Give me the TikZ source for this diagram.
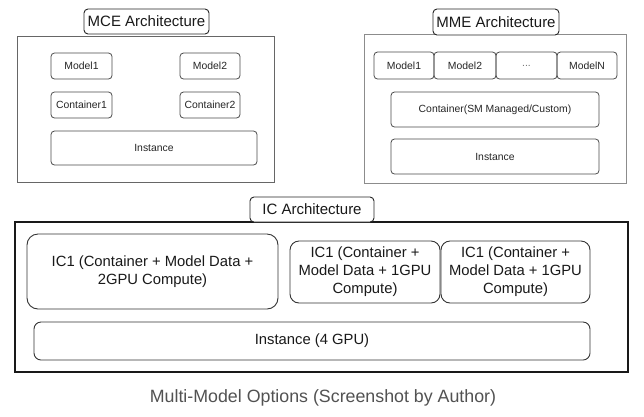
\documentclass[tikz,border=0pt]{standalone}
\usepackage{fontspec}
\setmainfont{Liberation Sans}
\begin{document}
\begin{tikzpicture}[x=1pt,y=-1pt,
  every node/.style={inner sep=0pt,outer sep=0pt},
  frame/.style={draw=#1,line width=0.9pt,fill=white,rectangle},
  frame/.default={black!65},
  title/.style={draw=black!85,line width=0.9pt,rounded corners=4pt,fill=white,font=\fontsize{15}{18}\selectfont,text=black!90},
  small/.style={draw=black!70,line width=0.8pt,rounded corners=3.5pt,font=\fontsize{10.4}{12}\selectfont,text=black!85},
  big/.style={draw=black!80,line width=0.9pt,rounded corners=#1,font=\fontsize{14.8}{18}\selectfont,text=black!90,align=center},
  big/.default=9pt,
  caption/.style={font=\fontsize{17.8}{20}\selectfont,text=black!68}
]
\useasboundingbox[fill=white] (0,0) rectangle (644,416);

% MCE
\node[frame=black!60,minimum width=257pt,minimum height=146pt] (mce) at (145.5,109) {};
\node[title,minimum width=125pt,minimum height=25pt] (mcet) at (146.5,21.5) {MCE Architecture};
\node[small,minimum width=61pt,minimum height=26pt] (mm1) at (81.5,66) {Model1};
\node[small,minimum width=60pt,minimum height=26pt] (mm2) at (210,66) {Model2};
\node[small,minimum width=61pt,minimum height=26pt] (mc1) at (81.5,105) {Container1};
\node[small,minimum width=60pt,minimum height=26pt] (mc2) at (210,105) {Container2};
\node[small,minimum width=206pt,minimum height=34pt] (mi) at (154,148) {Instance};

% MME
\node[frame=black!45,minimum width=262pt,minimum height=149pt] (mme) at (495,108.5) {};
\node[title,minimum width=126pt,minimum height=26pt] (mmet) at (496,22) {MME Architecture};
\node[small,minimum width=60pt,minimum height=27pt] (n1) at (404,65.5) {Model1};
\node[small,minimum width=62pt,minimum height=27pt] (n2) at (465,65.5) {Model2};
\node[small,minimum width=61pt,minimum height=27pt,text=black!55] (n3) at (526.5,65.5) {...};
\node[small,minimum width=60pt,minimum height=27pt] (n4) at (587,65.5) {ModelN};
\node[small,minimum width=208pt,minimum height=35pt] (nc) at (495,109.5) {Container(SM Managed/Custom)};
\node[small,minimum width=208pt,minimum height=35pt] (ni) at (495,156.5) {Instance};

% IC
\node[frame=black!90,line width=1.3pt,minimum width=613pt,minimum height=150pt] (ic) at (321.5,297) {};
\node[title,minimum width=124pt,minimum height=25pt] (ict) at (312,209.5) {IC Architecture};
\node[big=11pt,minimum width=251pt,minimum height=75pt] (ic1) at (152.5,271.5) {IC1 (Container + Model Data +\\2GPU Compute)};
\node[big,minimum width=150pt,minimum height=62pt] (ic2) at (365,272) {IC1 (Container +\\Model Data + 1GPU\\Compute)};
\node[big,minimum width=149pt,minimum height=62pt] (ic3) at (515.5,272) {IC1 (Container +\\Model Data + 1GPU\\Compute)};
\node[big=7pt,minimum width=556pt,minimum height=38pt] (ici) at (312,341) {Instance (4 GPU)};

\node[caption] (cap) at (323,398) {Multi-Model Options (Screenshot by Author)};
\end{tikzpicture}
\end{document}
